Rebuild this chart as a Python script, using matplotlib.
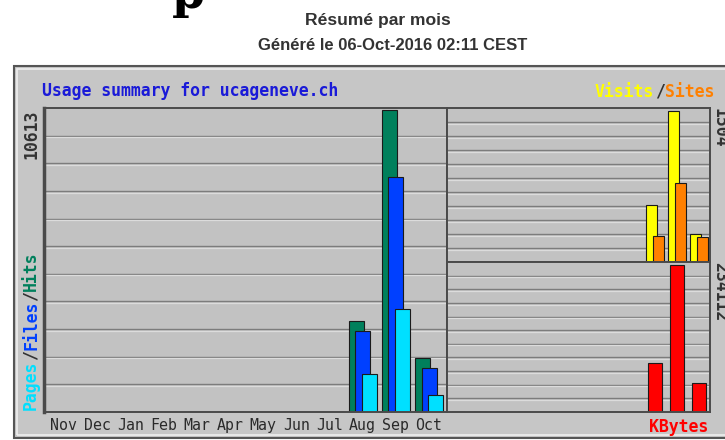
import numpy as np
import matplotlib.pyplot as plt
from matplotlib.patches import Rectangle

# ── Data ──────────────────────────────────────────────────────────────────────
months = ["Nov", "Dec", "Jan", "Feb", "Mar", "Apr",
          "May", "Jun", "Jul", "Aug", "Sep", "Oct"]
hits   = [0, 0, 0, 0, 0, 0, 0, 0, 0, 3210, 10613, 1900]
files  = [0, 0, 0, 0, 0, 0, 0, 0, 0, 2855, 8250, 1550]
pages  = [0, 0, 0, 0, 0, 0, 0, 0, 0, 1340, 3630, 600]
visits = [0, 0, 0, 0, 0, 0, 0, 0, 0, 567, 1504, 278]
sites  = [0, 0, 0, 0, 0, 0, 0, 0, 0, 257, 783, 247]
kbytes = [0, 0, 0, 0, 0, 0, 0, 0, 0, 78000, 234112, 46000]

max_hits_label = "10613"
max_visits_label = "1504"
max_kbytes_label = "234112"

# ── Style ─────────────────────────────────────────────────────────────────────
W, H = 725, 440
C_HITS, C_FILES, C_PAGES = "#00805c", "#0040ff", "#00e0ff"
C_VISITS, C_SITES, C_KBYTES = "#ffff00", "#ff8000", "#ff0000"
PANEL = "#c6c6c6"
PLOT_BG = "#c2c2c2"
MONO = "DejaVu Sans Mono"
MONO_SIZE = 11.9
CHAR = 0.602 * MONO_SIZE * 100 / 72   # advance of one mono glyph, px


def fx(x):
    return x / W


def fy(y):
    return 1 - y / H


fig = plt.figure(figsize=(W / 100, H / 100), dpi=100)
fig.patch.set_facecolor("white")

# page headings
fig.text(fx(188), fy(8), "p", fontsize=34, family="DejaVu Serif",
         fontweight="bold", ha="center", va="baseline")
fig.text(fx(378), fy(20), "Résumé par mois", fontsize=12.6,
         family="Liberation Sans", fontweight="bold", color="#333333",
         ha="center", va="center")
fig.text(fx(393), fy(45), "Généré le 06-Oct-2016 02:11 CEST", fontsize=12,
         family="Liberation Sans", fontweight="bold", color="#333333",
         ha="center", va="center")

# outer webalizer panel
fig.add_artist(Rectangle((fx(14), fy(438)), fx(730 - 14), (438 - 66) / H,
                         transform=fig.transFigure, facecolor=PANEL,
                         edgecolor="#555555", lw=1.5, zorder=-2))
fig.add_artist(Rectangle((fx(17), fy(435)), fx(730 - 17), (435 - 69) / H,
                         transform=fig.transFigure, facecolor="none",
                         edgecolor="#eeeeee", lw=1.2, zorder=-1))

fig.text(fx(42), fy(91), "Usage summary for ucageneve.ch", family=MONO,
         fontsize=MONO_SIZE, fontweight="bold", color="#1a1ad8",
         ha="left", va="center")


def setup(ax, ymax, nlines=11):
    ax.set_facecolor(PLOT_BG)
    ax.set_ylim(0, ymax)
    ax.set_xlim(-0.5, 11.5)
    ax.set_yticks([])
    step = ymax / nlines
    px = ymax / (ax.get_position().height * H)
    for k in range(1, nlines):
        ax.axhline(k * step, color="#7c7c7c", lw=1.0, zorder=0.5)
        ax.axhline(k * step - 1.6 * px, color="#dcdcdc", lw=0.9, zorder=0.5)
    for s in ax.spines.values():
        s.set_color("#4a4a4a")
        s.set_linewidth(1.4)


x = np.arange(len(months))
edge = dict(edgecolor="#1a1a1a", linewidth=0.8, zorder=2)

# ── Left: hits / files / pages ────────────────────────────────────────────────
ax1 = fig.add_axes([fx(44), fy(412), (447 - 44) / W, (412 - 108) / H])
setup(ax1, max(hits) * 1.005)
ax1.set_xlim(-0.6, 11.54)
ax1.bar(x - 0.2, hits, width=0.45, color=C_HITS, **edge)
ax1.bar(x, files, width=0.45, color=C_FILES, **edge)
ax1.bar(x + 0.2, pages, width=0.45, color=C_PAGES, **edge)
ax1.set_xticks(x, months)
ax1.tick_params(axis="x", length=0, pad=4)
for lab in ax1.get_xticklabels():
    lab.set_family(MONO)
    lab.set_fontsize(MONO_SIZE - 1.2)
    lab.set_color("#2a2a2a")
ax1.spines["left"].set_linewidth(2.5)

# ── Top right: visits / sites ─────────────────────────────────────────────────
ax2 = fig.add_axes([fx(447), fy(262), (710 - 447) / W, (262 - 108) / H])
setup(ax2, max(visits) * 1.02)
ax2.set_xticks([])
ax2.bar(x - 0.15, visits, width=0.5, color=C_VISITS, **edge)
ax2.bar(x + 0.15, sites, width=0.52, color=C_SITES, **edge)

# ── Bottom right: kbytes ──────────────────────────────────────────────────────
ax3 = fig.add_axes([fx(447), fy(412), (710 - 447) / W, (412 - 262) / H])
setup(ax3, max(kbytes) * 1.02)
ax3.set_xticks([])
ax3.bar(x, kbytes, width=0.65, color=C_KBYTES, **edge)

# ── Axis captions ─────────────────────────────────────────────────────────────
mono = dict(family=MONO, fontsize=MONO_SIZE, fontweight="bold")
fig.text(fx(31), fy(110), max_hits_label, rotation=90, color="#333333",
         ha="center", va="top", **mono)

# Pages/Files/Hits written bottom-to-top, in pieces
parts = [("Pages", C_PAGES), ("/", "#333333"), ("Files", C_FILES),
         ("/", "#333333"), ("Hits", C_HITS)]
y0 = 410
for txt, col in parts:
    fig.text(fx(31), fy(y0), txt, rotation=90, color=col,
             ha="center", va="bottom", **mono)
    y0 -= CHAR * len(txt)

fig.text(fx(720), fy(108), max_visits_label, rotation=270, color="#333333",
         ha="center", va="top", **mono)
fig.text(fx(720), fy(262), max_kbytes_label, rotation=270, color="#333333",
         ha="center", va="top", **mono)

# legend captions top right / bottom right
x0 = 595
for txt, col in [("Visits", C_VISITS), ("/", "#333333"), ("Sites", C_SITES)]:
    fig.text(fx(x0), fy(92), txt, color=col, ha="left", va="center", **mono)
    x0 += CHAR * len(txt)
fig.text(fx(708), fy(427), "KBytes", color=C_KBYTES, ha="right",
         va="center", **mono)

fig.savefig("out.png", dpi=100)
